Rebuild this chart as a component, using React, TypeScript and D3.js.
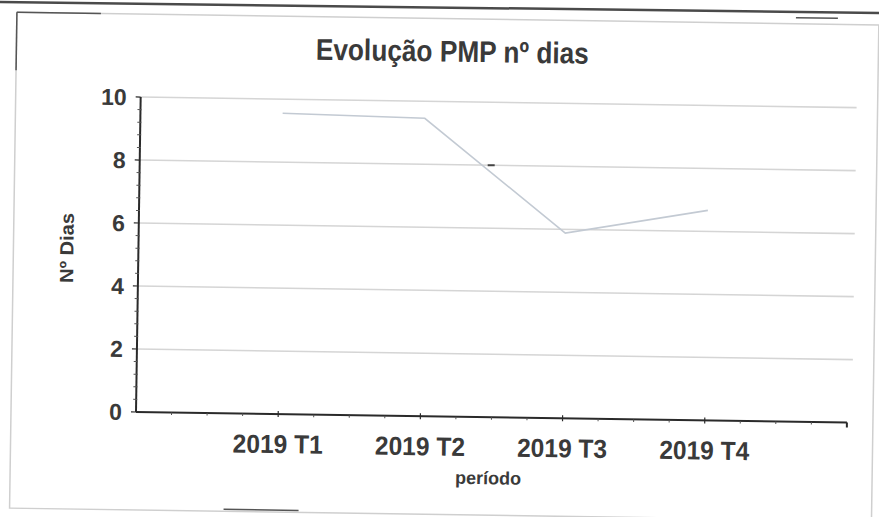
import React from "react";
import * as d3 from "d3";

const categories = ["2019 T1", "2019 T2", "2019 T3", "2019 T4"];
const values = [9.55, 9.46, 5.88, 6.67];
const yTicks = [0, 2, 4, 6, 8, 10];
const title = "Evolução PMP nº dias";
const yTitle = "Nº Dias";
const xTitle = "período";

const W = 879;
const H = 517;
const ANGLE = 0.85;
const OX = 136;
const OY = 412;

export default function App() {
  const x = d3.scaleLinear().domain([0, categories.length + 1]).range([136, 847]);
  const y = d3.scaleLinear().domain([0, 10]).range([412, 97]);
  const line = d3
    .line<number>()
    .x((_, i) => x(i + 1))
    .y((d) => y(d));
  const minorY = d3.range(0, 10.001, 0.4).filter((v) => !yTicks.includes(Math.round(v * 10) / 10));
  const minorX = d3.range(0, 5.001, 0.25).filter((v) => Math.abs(v - Math.round(v)) > 0.01);
  const font = "'Liberation Sans', Arial, Helvetica, sans-serif";
  const txt = "#3a3a3a";

  return (
    <svg
      width={W}
      height={H}
      style={{ position: "fixed", left: 0, top: 0, background: "#fff" }}
      fontFamily={font}
    >
      <rect x={0} y={0} width={W} height={H} fill="#fff" />
      {/* scanner edge at top */}
      <line x1={0} y1={2} x2={W} y2={13} stroke="#4a4a4a" strokeWidth={2.5} />
      <g transform={`rotate(${ANGLE}, ${OX}, ${OY})`}>
        {/* frame */}
        <rect x={11} y={14} width={862} height={496} fill="none" stroke="#cfcfcf" strokeWidth={1.5} />
        <line x1={11} y1={14} x2={95} y2={14} stroke="#555" strokeWidth={1.5} />
        <line x1={11} y1={14} x2={11} y2={72} stroke="#555" strokeWidth={1.5} />
        <line x1={790} y1={8} x2={832} y2={8} stroke="#555" strokeWidth={1.5} />
        <line x1={225} y1={508} x2={300} y2={508} stroke="#555" strokeWidth={1.5} />

        {/* title */}
        <text
          x={447}
          y={57}
          textAnchor="middle"
          fontSize={30}
          fontWeight="bold"
          fill={txt}
          textLength={273}
          lengthAdjust="spacingAndGlyphs"
        >
          {title}
        </text>

        {/* gridlines */}
        {yTicks
          .filter((t) => t > 0)
          .map((t) => (
            <line key={t} x1={x(0)} x2={852} y1={y(t)} y2={y(t)} stroke="#d5d5d5" strokeWidth={1.6} />
          ))}

        {/* data line */}
        <path d={line(values) || ""} fill="none" stroke="#c3cad3" strokeWidth={1.6} />
        <line x1={484} x2={491} y1={y(8)} y2={y(8)} stroke="#444" strokeWidth={2} />

        {/* y axis */}
        <line x1={x(0)} x2={x(0)} y1={y(0)} y2={y(10)} stroke="#2a2a2a" strokeWidth={2} />
        {yTicks.map((t) => (
          <line key={t} x1={x(0) - 5} x2={x(0)} y1={y(t)} y2={y(t)} stroke="#2a2a2a" strokeWidth={1.2} />
        ))}
        {minorY.map((t) => (
          <line key={t} x1={x(0) - 3} x2={x(0) + 1} y1={y(t)} y2={y(t)} stroke="#555" strokeWidth={1} />
        ))}
        {yTicks.map((t) => (
          <text
            key={t}
            x={122}
            y={y(t)}
            dy="0.36em"
            textAnchor="end"
            fontSize={23}
            fontWeight="bold"
            fill={txt}
          >
            {t}
          </text>
        ))}

        {/* x axis */}
        <line x1={x(0)} x2={x(5)} y1={y(0)} y2={y(0)} stroke="#2a2a2a" strokeWidth={2} />
        <line x1={x(5)} x2={x(5)} y1={y(0)} y2={y(0) + 5} stroke="#2a2a2a" strokeWidth={2} />
        {categories.map((c, i) => (
          <line key={c} x1={x(i + 1)} x2={x(i + 1)} y1={y(0) - 3} y2={y(0) + 3} stroke="#2a2a2a" strokeWidth={1.2} />
        ))}
        {minorX.map((v) => (
          <line key={v} x1={x(v)} x2={x(v)} y1={y(0)} y2={y(0) + 2.5} stroke="#555" strokeWidth={1} />
        ))}
        {categories.map((c, i) => (
          <text
            key={c}
            x={x(i + 1)}
            y={451}
            textAnchor="middle"
            fontSize={26}
            fontWeight="bold"
            fill={txt}
            textLength={90}
            lengthAdjust="spacingAndGlyphs"
          >
            {c}
          </text>
        ))}

        {/* axis titles */}
        <text x={489} y={479} textAnchor="middle" fontSize={18} fontWeight="bold" fill={txt}>
          {xTitle}
        </text>
        <text
          transform="translate(71,249) rotate(-90)"
          textAnchor="middle"
          fontSize={19}
          fontWeight="bold"
          fill={txt}
          textLength={70}
          lengthAdjust="spacingAndGlyphs"
        >
          {yTitle}
        </text>
      </g>
    </svg>
  );
}
